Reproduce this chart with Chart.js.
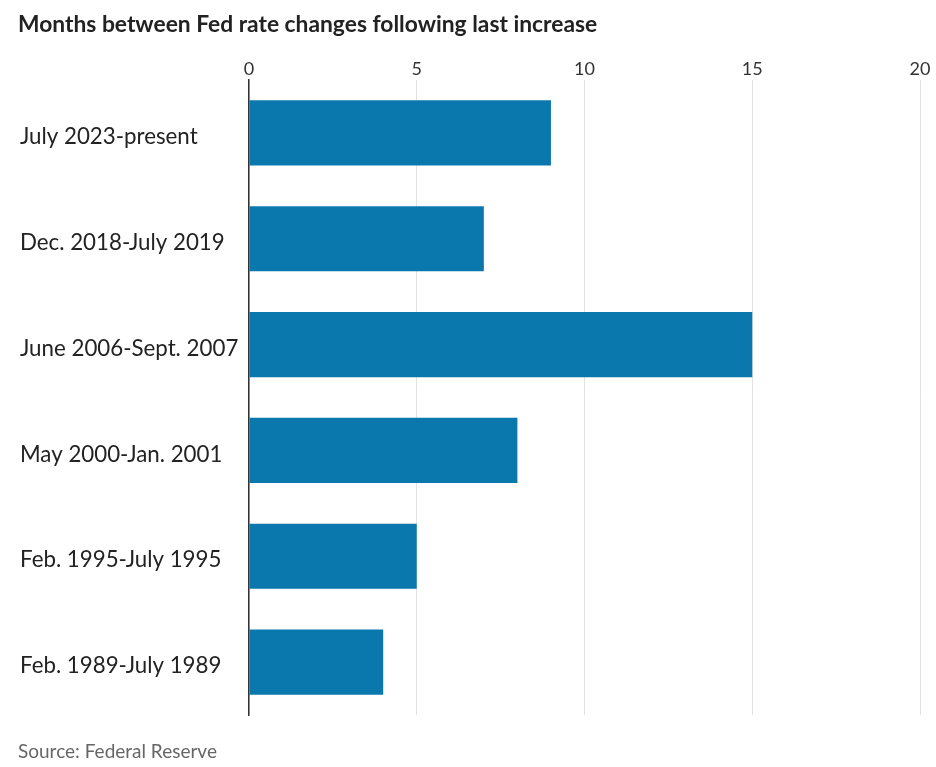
<!DOCTYPE html>
<html>
<head>
<meta charset="utf-8">
<script src="https://cdn.jsdelivr.net/npm/chart.js@4"></script>
<style>
    body { margin: 0; background: #fff; }
    #wrap { position: relative; width: 936px; height: 767px; }
    #title {
        position: absolute; left: 18px; top: 9px;
        font: bold 22.8px Lato, sans-serif; color: #222;
    }
    #source {
        position: absolute; left: 18px; top: 739px;
        font: 19px Lato, sans-serif; color: #666;
    }
</style>
</head>
<body>
<div id="wrap">
    <div id="title">Months between Fed rate changes following last increase</div>
    <canvas id="chart" width="936" height="767"></canvas>
    <div id="source">Source: Federal Reserve</div>
</div>
<script>
// Data
const periods = [
    "July 2023-present",
    "Dec. 2018-July 2019",
    "June 2006-Sept. 2007",
    "May 2000-Jan. 2001",
    "Feb. 1995-July 1995",
    "Feb. 1989-July 1989",
];
const months = [9, 7, 15, 8, 5, 4];
const xTicks = [0, 5, 10, 15, 20];

const ctx = document.getElementById("chart").getContext("2d");

new Chart(ctx, {
    type: "bar",
    data: {
        labels: periods,
        datasets: [
            {
                data: months,
                backgroundColor: "#0b78ad",
                categoryPercentage: 1,
                barPercentage: 0.615,
            },
        ],
    },
    options: {
        indexAxis: "y",
        responsive: false,
        animation: false,
        layout: {
            padding: { top: 56, bottom: 52, left: 20, right: 16 },
        },
        scales: {
            x: {
                position: "top",
                min: 0,
                max: 20,
                afterBuildTicks: (scale) => {
                    scale.ticks = xTicks.map((v) => ({ value: v }));
                },
                afterFit: (scale) => {
                    scale.height = 24;
                },
                grid: { color: "#e2e2e2", drawTicks: false },
                border: { display: false },
                ticks: {
                    padding: 0,
                    color: "#333",
                    font: { family: "Lato", size: 18 },
                },
            },
            y: {
                afterFit: (scale) => {
                    scale.width = 229;
                },
                grid: { color: "rgba(0,0,0,0)", drawTicks: false },
                border: { display: true, color: "#333", width: 1.5 },
                ticks: {
                    crossAlign: "far",
                    labelOffset: 4,
                    color: "#222",
                    font: { family: "Lato", size: 22.3 },
                },
            },
        },
        plugins: {
            legend: { display: false },
            tooltip: { enabled: false },
        },
    },
});
</script>
</body>
</html>
